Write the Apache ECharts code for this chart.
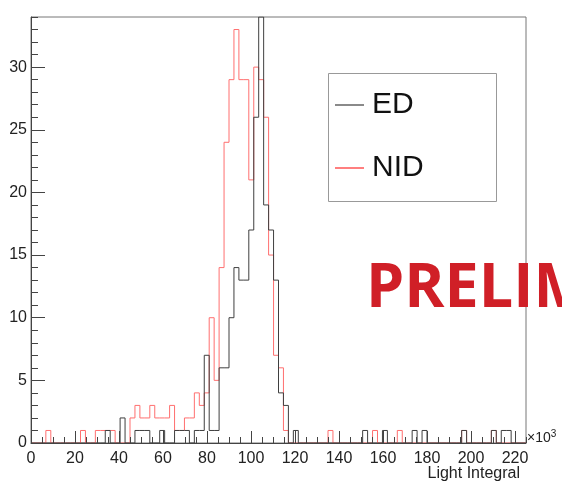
<!DOCTYPE html>
<html><head><meta charset="utf-8">
<script src="https://cdn.jsdelivr.net/npm/echarts@6/dist/echarts.min.js"></script>
<style>html,body{margin:0;padding:0;background:#fff}#c{width:562px;height:485px}</style>
</head><body><div id="c"></div>
<script>
// Histogram binning (x in units of 10^3)
const BIN_WIDTH = 2.25;
const X_MAX = 225;
const Y_MAX = 34;
const xTickValues = [0, 20, 40, 60, 80, 100, 120, 140, 160, 180, 200, 220];
const seriesNames = ['ED', 'NID'];

// Counts per bin, 100 bins of BIN_WIDTH starting at 0
const edCounts = [
  0,0,0,0,0,0,0,0,0,0,
  0,0,0,0,0,1,0,0,2,0,
  0,1,1,1,0,0,1,0,0,1,
  1,1,0,1,1,7,1,1,6,6,
  10,14,13,13,17,26,34,19,17,13,
  4,3,0,1,0,0,0,0,0,0,
  0,0,0,0,0,0,0,1,0,0,
  0,1,0,0,0,0,0,1,0,1,
  0,0,0,0,0,0,0,1,0,0,
  0,0,0,1,0,1,1,0,0,0
];
const nidCounts = [
  0,0,0,1,0,0,0,0,0,0,
  1,0,0,1,1,1,1,0,0,0,
  2,3,2,2,3,2,2,2,3,1,
  1,2,2,4,3,4,10,5,14,24,
  29,33,29,29,21,30,29,26,15,7,
  6,1,0,0,0,0,0,0,0,0,
  1,0,0,0,0,0,0,0,0,1,
  0,0,0,0,1,0,0,0,0,0,
  0,0,0,0,0,0,0,1,0,0,
  0,0,0,1,0,0,0,0,0,0
];

function stepData(counts) {
  const pts = counts.map((v, k) => [k * BIN_WIDTH, v]);
  pts.push([counts.length * BIN_WIDTH, 0]);
  return pts;
}

const FONT = 'Liberation Sans';
const chart = echarts.init(document.getElementById('c'), null, {renderer: 'canvas'});
chart.setOption({
  animation: false,
  backgroundColor: '#fff',
  grid: {left: 31, right: 36, top: 17, bottom: 42, show: true, borderColor: '#777', borderWidth: 1, backgroundColor: 'transparent'},
  xAxis: [
    {type: 'value', min: 0, max: X_MAX, interval: 20, z: 5,
     axisLine: {show: true, lineStyle: {color: '#444', width: 1}},
     axisTick: {show: true, inside: true, length: 12, lineStyle: {color: '#444'}},
     axisLabel: {fontFamily: FONT, fontSize: 16, color: '#222', margin: 8, showMaxLabel: false,
                 formatter: v => xTickValues.includes(v) ? String(v) : ''},
     splitLine: {show: false}},
    {type: 'value', min: 0, max: X_MAX, interval: 5, position: 'bottom', z: 5,
     axisLine: {show: false},
     axisTick: {show: true, inside: true, length: 6, lineStyle: {color: '#444'}},
     axisLabel: {show: false}, splitLine: {show: false}}
  ],
  yAxis: [
    {type: 'value', min: 0, max: Y_MAX, interval: 5, z: 5,
     axisLine: {show: true, lineStyle: {color: '#444', width: 1}},
     axisTick: {show: true, inside: true, length: 14, lineStyle: {color: '#444'}},
     axisLabel: {fontFamily: FONT, fontSize: 16, color: '#222', margin: 4, showMaxLabel: false},
     splitLine: {show: false}},
    {type: 'value', min: 0, max: Y_MAX, interval: 1, position: 'left', z: 5,
     axisLine: {show: false},
     axisTick: {show: true, inside: true, length: 7, lineStyle: {color: '#444'}},
     axisLabel: {show: false}, splitLine: {show: false}}
  ],
  legend: {
    data: seriesNames, orient: 'vertical', left: 335, top: 89, padding: 0, itemGap: 31,
    itemWidth: 29, itemHeight: 2, icon: 'rect',
    textStyle: {fontFamily: FONT, fontSize: 30, color: '#111', lineHeight: 32, padding: [0, 0, 0, 3]}
  },
  series: [
    {name: seriesNames[0], type: 'line', step: 'end', showSymbol: false, xAxisIndex: 0, yAxisIndex: 0,
     data: stepData(edCounts), lineStyle: {color: '#3f3f3f', width: 1}, itemStyle: {color: '#8a8a8a'}, z: 3},
    {name: seriesNames[1], type: 'line', step: 'end', showSymbol: false, xAxisIndex: 0, yAxisIndex: 0,
     data: stepData(nidCounts), lineStyle: {color: '#ff6f6f', width: 1}, itemStyle: {color: '#ff7f7f'}, z: 2}
  ],
  graphic: [
    {type: 'rect', left: 328, top: 73, z: 1, shape: {width: 168, height: 128},
     style: {fill: '#fff', stroke: '#999', lineWidth: 1}},
    {type: 'text', x: 520, y: 474, z: 10,
     style: {text: 'Light Integral', font: '16px "Liberation Sans"', fill: '#222', textAlign: 'right', textVerticalAlign: 'middle'}},
    {type: 'text', x: 527, y: 438, z: 10,
     style: {text: '{a|×10}{b|3}', fill: '#222', textVerticalAlign: 'middle',
             rich: {a: {fontFamily: FONT, fontSize: 14, color: '#222'}, b: {fontFamily: FONT, fontSize: 10, color: '#222', verticalAlign: 'top', padding: [0, 0, 8, 0]}}}},
    {type: 'text', x: 366, y: 290, z: 10,
     style: {text: 'PRELIMINARY', font: 'bold 61px "Open Sans"', fill: '#d01f27', textVerticalAlign: 'middle'}}
  ]
});
</script>
</body></html>
